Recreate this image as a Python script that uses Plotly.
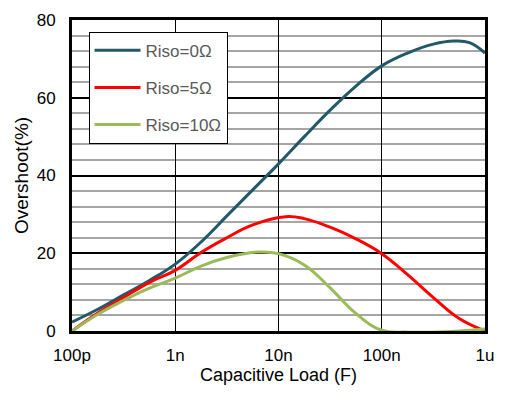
import plotly.graph_objects as go

# Capacitive load, as log10(F)
log_c_0 = [-10.0, -9.75, -9.5, -9.25, -9.0, -8.75, -8.5, -8.25, -8.0, -7.75,
           -7.5, -7.25, -7.0, -6.75, -6.5, -6.3, -6.15, -6.0]
log_c_5 = [-10.0, -9.75, -9.5, -9.25, -9.0, -8.75, -8.5, -8.25, -7.93, -7.75,
           -7.5, -7.25, -7.0, -6.75, -6.5, -6.25, -6.0]
log_c_10 = [-10.0, -9.75, -9.5, -9.25, -9.0, -8.75, -8.5, -8.2, -8.0, -7.75,
            -7.5, -7.25, -7.0, -6.75, -6.5, -6.25, -6.0]

# Overshoot (%) for each isolation resistor
riso_0 = [2.3, 5.6, 9.3, 13.0, 17.2, 22.9, 29.6, 36.3, 43.0, 50.0,
          56.8, 63.0, 68.2, 71.5, 73.8, 74.6, 74.2, 71.5]
riso_5 = [0.0, 4.6, 8.6, 12.5, 15.6, 20.2, 24.0, 27.3, 29.4, 28.9,
          26.7, 23.7, 19.9, 14.5, 8.6, 3.2, 0.0]
riso_10 = [0.0, 4.3, 7.9, 11.0, 13.6, 16.7, 18.9, 20.3, 19.9, 17.0,
           11.1, 4.5, 0.2, -0.3, -0.3, 0.0, 0.5]

x_ticks = [1e-10, 1e-9, 1e-8, 1e-7, 1e-6]
x_tick_text = ["100p", "1n", "10n", "100n", "1u"]

series = [
    ("Riso=0Ω", log_c_0, riso_0, "#215968"),
    ("Riso=5Ω", log_c_5, riso_5, "#FF0000"),
    ("Riso=10Ω", log_c_10, riso_10, "#9BBB59"),
]

fig = go.Figure()
for i, (name, lx, vals, color) in enumerate(series):
    fig.add_trace(go.Scatter(
        x=[10 ** v for v in lx], y=vals, name=name, mode="lines",
        line=dict(color=color, width=3, shape="spline", smoothing=1.2),
        legendgroup=f"g{i}",
    ))

font = "Liberation Sans, Arial, sans-serif"
fig.update_layout(
    width=505, height=393,
    margin=dict(l=72, r=11, t=13, b=62),
    paper_bgcolor="white", plot_bgcolor="white",
    font=dict(family=font, size=17, color="black"),
    showlegend=True,
    legend=dict(
        x=0.04, y=0.962, xanchor="left", yanchor="top",
        bgcolor="white", bordercolor="black", borderwidth=1,
        font=dict(size=17, color="#595959", family=font),
        tracegroupgap=12, traceorder="grouped",
        itemwidth=46,
        entrywidth=100, entrywidthmode="pixels",
    ),
)
fig.update_xaxes(
    type="log", range=[-10, -6],
    tickvals=x_ticks, ticktext=x_tick_text,
    showgrid=True, gridcolor="black", gridwidth=1,
    showline=True, linecolor="black", linewidth=3, mirror=True,
    ticks="outside", ticklen=7, tickcolor="rgba(0,0,0,0)",
    title=dict(text="Capacitive Load (F)", font=dict(size=18), standoff=4),
    zeroline=False,
)
fig.update_yaxes(
    range=[0, 80], dtick=20, tick0=0,
    showgrid=True, gridcolor="black", gridwidth=1.5,
    minor=dict(dtick=4, showgrid=True, gridcolor="#A6A6A6", gridwidth=2),
    showline=True, linecolor="black", linewidth=3, mirror=True,
    ticks="outside", ticklen=10, tickcolor="rgba(0,0,0,0)",
    title=dict(text="Overshoot(%)", font=dict(size=19), standoff=4),
    zeroline=False,
)

fig.write_html("out.html")
